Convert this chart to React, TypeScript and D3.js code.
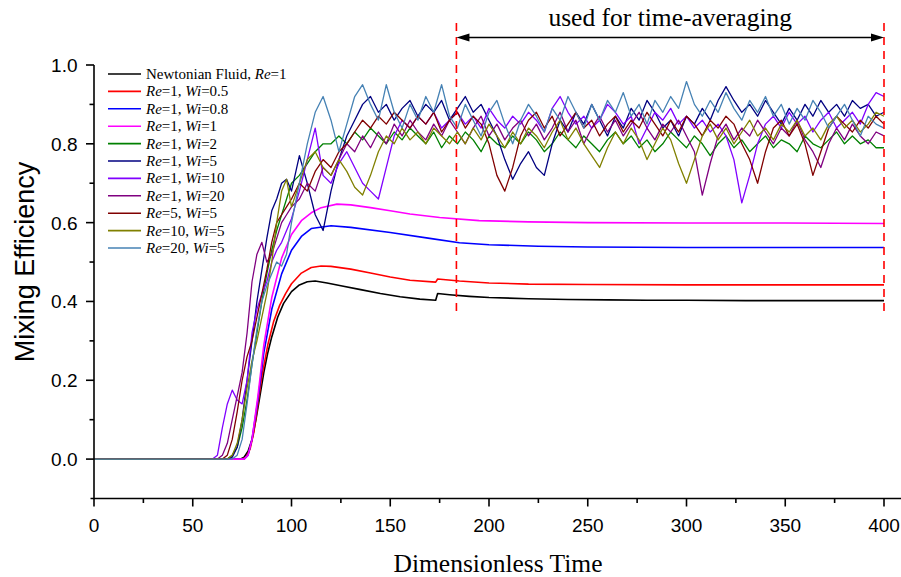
import React from 'react';
import * as d3 from 'd3';

// ---------- data ----------
// time samples for the fluctuating (viscoelastic, high-Wi) series
const T_NOISY = [
  0, 60, 62.5, 65, 67.5, 70, 72.5, 75, 77.5, 80, 82.5, 85, 87.5, 90, 92.5, 95, 97.5, 100,
  104, 108, 112, 116, 120, 124, 128, 132, 136, 140,
  144, 148, 152, 156, 160, 164, 168, 172, 176, 180,
  184, 188, 192, 196, 200, 204, 208, 212, 216, 220,
  224, 228, 232, 236, 240, 244, 248, 252, 256, 260,
  264, 268, 272, 276, 280, 284, 288, 292, 296, 300,
  304, 308, 312, 316, 320, 324, 328, 332, 336, 340,
  344, 348, 352, 356, 360, 364, 368, 372, 376, 380,
  384, 388, 392, 396, 400,
];

const T_NEWT = [0, 74, 76, 78, 80, 82, 84, 86, 88, 90, 93, 96, 100, 104, 108, 112, 118, 125, 135, 145, 155, 165, 173, 174, 180, 190, 200, 220, 240, 260, 280, 300, 330, 360, 400];
const V_NEWT = [0, 0, 0.005, 0.02, 0.05, 0.1, 0.16, 0.22, 0.27, 0.31, 0.36, 0.395, 0.425, 0.442, 0.45, 0.452, 0.447, 0.44, 0.43, 0.42, 0.412, 0.406, 0.403, 0.42, 0.417, 0.413, 0.41, 0.407, 0.405, 0.404, 0.403, 0.403, 0.402, 0.402, 0.402];

const T_WI05 = [0, 75, 77, 79, 81, 83, 85, 88, 91, 94, 97, 100, 105, 110, 115, 120, 130, 140, 150, 160, 173, 174, 185, 200, 220, 250, 300, 350, 400];
const V_WI05 = [0, 0, 0.005, 0.025, 0.07, 0.14, 0.21, 0.29, 0.35, 0.39, 0.42, 0.445, 0.472, 0.486, 0.49, 0.489, 0.482, 0.472, 0.462, 0.454, 0.449, 0.457, 0.452, 0.447, 0.444, 0.443, 0.442, 0.442, 0.442];

const T_WI08 = [0, 76, 78, 80, 83, 86, 90, 95, 100, 105, 110, 120, 130, 150, 170, 185, 200, 225, 250, 300, 350, 400];
const V_WI08 = [0, 0, 0.01, 0.05, 0.15, 0.27, 0.38, 0.47, 0.53, 0.565, 0.585, 0.592, 0.588, 0.575, 0.56, 0.549, 0.544, 0.54, 0.538, 0.537, 0.537, 0.537];

const T_WI1 = [0, 76, 78, 80, 83, 86, 90, 95, 100, 105, 110, 115, 123, 130, 140, 150, 160, 175, 195, 220, 250, 300, 350, 400];
const V_WI1 = [0, 0, 0.01, 0.05, 0.16, 0.29, 0.41, 0.51, 0.57, 0.605, 0.625, 0.638, 0.647, 0.645, 0.638, 0.63, 0.622, 0.613, 0.605, 0.602, 0.6, 0.599, 0.599, 0.598];

const V_WI2 = [
  0, 0, 0, 0, 0, 0.01, 0.03, 0.08, 0.15, 0.24, 0.32, 0.4, 0.47, 0.53, 0.58, 0.62, 0.66, 0.7,
  0.72, 0.75, 0.78, 0.8, 0.8, 0.82, 0.8, 0.83, 0.81, 0.84,
  0.82, 0.8, 0.83, 0.81, 0.84, 0.82, 0.8, 0.83, 0.79, 0.82,
  0.8, 0.83, 0.81, 0.78, 0.82, 0.8, 0.79, 0.82, 0.8, 0.83,
  0.81, 0.78, 0.8, 0.83, 0.81, 0.79, 0.82, 0.8, 0.78, 0.81,
  0.83, 0.8, 0.82, 0.79, 0.81, 0.78, 0.8, 0.83, 0.81, 0.79,
  0.82, 0.8, 0.77, 0.8, 0.82, 0.79, 0.81, 0.78, 0.8, 0.82,
  0.79, 0.81, 0.8, 0.78, 0.82, 0.8, 0.79, 0.81, 0.83, 0.8,
  0.82, 0.8, 0.81, 0.79, 0.79,
];

const V_WI5 = [
  0, 0, 0, 0, 0, 0.005, 0.03, 0.1, 0.2, 0.3, 0.4, 0.48, 0.56, 0.63, 0.66, 0.7, 0.71, 0.68,
  0.77, 0.7, 0.62, 0.58, 0.68, 0.76, 0.82, 0.86, 0.9, 0.92,
  0.88, 0.9, 0.86, 0.89, 0.91, 0.87, 0.9, 0.88, 0.91, 0.86,
  0.89, 0.92, 0.88, 0.9, 0.86, 0.82, 0.76, 0.71, 0.75, 0.78,
  0.74, 0.72, 0.8, 0.86, 0.83, 0.88, 0.85, 0.9, 0.86, 0.82,
  0.87, 0.84, 0.89, 0.86, 0.91, 0.88, 0.84, 0.86, 0.82, 0.87,
  0.85, 0.89, 0.86, 0.91, 0.945, 0.91, 0.88, 0.9, 0.87, 0.91,
  0.88, 0.85, 0.89, 0.86, 0.9, 0.87, 0.91, 0.88, 0.9, 0.87,
  0.91, 0.89, 0.9, 0.87, 0.88,
];

const V_WI10 = [
  0, 0, 0.01, 0.08, 0.14, 0.175, 0.15, 0.14, 0.2, 0.32, 0.38, 0.42, 0.45, 0.5, 0.53, 0.55, 0.58, 0.61,
  0.68, 0.76, 0.84, 0.72, 0.7, 0.75, 0.78, 0.74, 0.7, 0.68,
  0.66, 0.74, 0.82, 0.86, 0.84, 0.87, 0.85, 0.88, 0.84, 0.86,
  0.88, 0.85, 0.87, 0.84, 0.89, 0.86, 0.84, 0.87, 0.85, 0.88,
  0.86, 0.83, 0.89, 0.92, 0.88, 0.85, 0.87, 0.84, 0.86, 0.9,
  0.88, 0.85, 0.87, 0.8, 0.84, 0.88, 0.86, 0.89, 0.85, 0.87,
  0.84, 0.86, 0.83, 0.85, 0.82, 0.76, 0.65, 0.72, 0.8, 0.85,
  0.87, 0.84, 0.88, 0.85, 0.87, 0.83, 0.86, 0.88, 0.84, 0.86,
  0.88, 0.85, 0.9, 0.93, 0.92,
];

const V_WI20 = [
  0, 0, 0, 0.01, 0.04, 0.1, 0.16, 0.22, 0.32, 0.45, 0.52, 0.55, 0.5, 0.52, 0.56, 0.6, 0.62, 0.64,
  0.66, 0.7, 0.68, 0.74, 0.72, 0.76, 0.8, 0.78, 0.82, 0.79,
  0.83, 0.8, 0.85, 0.82, 0.86, 0.83, 0.81, 0.85, 0.82, 0.86,
  0.83, 0.8, 0.84, 0.87, 0.82, 0.85, 0.81, 0.84, 0.86, 0.82,
  0.85, 0.81, 0.84, 0.88, 0.83, 0.86, 0.8, 0.84, 0.87, 0.83,
  0.86, 0.82, 0.85, 0.88, 0.84, 0.81, 0.85, 0.83, 0.86, 0.82,
  0.78, 0.67, 0.75, 0.82, 0.85, 0.81, 0.84, 0.82, 0.86, 0.83,
  0.8, 0.84, 0.82, 0.86, 0.81, 0.78, 0.74, 0.8, 0.84, 0.81,
  0.85, 0.82, 0.8, 0.83, 0.82,
];

const V_RE5 = [
  0, 0, 0, 0, 0.01, 0.05, 0.12, 0.2, 0.26, 0.3, 0.36, 0.42, 0.48, 0.55, 0.6, 0.62, 0.64, 0.66,
  0.7, 0.68, 0.73, 0.76, 0.74, 0.78, 0.8, 0.83, 0.86, 0.84,
  0.87, 0.85, 0.88, 0.86, 0.84, 0.87, 0.85, 0.88, 0.83, 0.86,
  0.88, 0.84, 0.87, 0.85, 0.8, 0.72, 0.68, 0.74, 0.82, 0.86,
  0.88, 0.84, 0.87, 0.82, 0.85, 0.88, 0.84, 0.86, 0.82, 0.85,
  0.87, 0.83, 0.86, 0.84, 0.88, 0.85, 0.82, 0.86, 0.83, 0.87,
  0.85, 0.82, 0.86, 0.84, 0.87, 0.85, 0.8, 0.76, 0.7, 0.78,
  0.84, 0.86, 0.82, 0.85, 0.8, 0.72, 0.78, 0.84, 0.87, 0.85,
  0.83, 0.86, 0.84, 0.87, 0.85,
];

const V_RE10 = [
  0, 0, 0, 0, 0, 0.01, 0.04, 0.1, 0.18, 0.25, 0.3, 0.36, 0.42, 0.5, 0.6, 0.68, 0.71, 0.64,
  0.7, 0.76, 0.78, 0.74, 0.72, 0.76, 0.73, 0.69, 0.67, 0.72,
  0.78, 0.82, 0.8, 0.84, 0.81, 0.83, 0.8, 0.84, 0.82, 0.8,
  0.83, 0.8, 0.84, 0.81, 0.85, 0.82, 0.79, 0.83, 0.8, 0.84,
  0.82, 0.79, 0.83, 0.86, 0.81, 0.84, 0.8, 0.77, 0.74, 0.79,
  0.83, 0.8, 0.84, 0.81, 0.76, 0.8, 0.84, 0.81, 0.75, 0.7,
  0.76, 0.82, 0.85, 0.81, 0.84, 0.8, 0.83, 0.86, 0.82, 0.84,
  0.81, 0.85, 0.83, 0.86, 0.82, 0.84, 0.81, 0.85, 0.87, 0.84,
  0.86, 0.83, 0.85, 0.88, 0.87,
];

const V_RE20 = [
  0, 0, 0, 0, 0, 0, 0.01, 0.05, 0.14, 0.24, 0.33, 0.4, 0.44, 0.47, 0.5, 0.49, 0.52, 0.6,
  0.7, 0.8, 0.88, 0.92, 0.86, 0.78, 0.85, 0.92, 0.95, 0.9,
  0.86, 0.95, 0.88, 0.84, 0.9, 0.86, 0.92, 0.88, 0.95, 0.87,
  0.84, 0.9, 0.86, 0.82, 0.88, 0.91, 0.85, 0.8, 0.86, 0.9,
  0.87, 0.83, 0.89, 0.86, 0.92, 0.88, 0.84, 0.9, 0.86, 0.91,
  0.88, 0.93, 0.87, 0.9, 0.85, 0.91, 0.88, 0.92, 0.89, 0.958,
  0.9, 0.87, 0.91, 0.88, 0.93, 0.89, 0.86, 0.91, 0.88, 0.92,
  0.87, 0.9, 0.85, 0.89, 0.86, 0.91, 0.88, 0.84, 0.87, 0.9,
  0.86, 0.82, 0.87, 0.85, 0.84,
];

const LEGEND_RE = ['1', '1', '1', '1', '1', '1', '1', '1', '5', '10', '20'];
const LEGEND_WI = [null, '0.5', '0.8', '1', '2', '5', '10', '20', '5', '5', '5'];
const COLORS = ['#000000', '#ff0000', '#0000ff', '#ff00ff', '#008000', '#000080', '#8000ff', '#800080', '#800000', '#808000', '#4682b4'];
const SERIES_T = [T_NEWT, T_WI05, T_WI08, T_WI1, T_NOISY, T_NOISY, T_NOISY, T_NOISY, T_NOISY, T_NOISY, T_NOISY];
const SERIES_V = [V_NEWT, V_WI05, V_WI08, V_WI1, V_WI2, V_WI5, V_WI10, V_WI20, V_RE5, V_RE10, V_RE20];

const X_TICKS = [0, 50, 100, 150, 200, 250, 300, 350, 400];
const X_MINOR = [25, 75, 125, 175, 225, 275, 325, 375];
const Y_TICKS = [0, 0.2, 0.4, 0.6, 0.8, 1.0];
const Y_MINOR = [0.1, 0.3, 0.5, 0.7, 0.9];
const AVG_START = 183.5;
const AVG_END = 400;

// ---------- layout ----------
const W = 901;
const H = 577;
const SANS = "'Liberation Sans', Arial, sans-serif";
const SERIF = "'Liberation Serif', 'Times New Roman', serif";

export default function App() {
  const x = d3.scaleLinear().domain([0, 400]).range([94, 884]);
  const y = d3.scaleLinear().domain([-0.1, 1.0]).range([498.5, 65]);
  const line = d3.line<[number, number]>().x((d) => x(d[0])).y((d) => y(d[1]));

  const xAxisY = y(-0.1);
  const yAxisX = x(0);

  const lx0 = 108, lx1 = 141, ly0 = 74, ldy = 17.4;
  const ax0 = x(AVG_START), ax1 = x(AVG_END), ay = 37.5;

  return (
    <svg width={W} height={H} style={{ position: 'absolute', left: 0, top: 0, background: '#fff' }}>
      <rect x={0} y={0} width={W} height={H} fill="#fff" />
      {/* data */}
      <g fill="none" strokeLinejoin="round">
        {SERIES_V.map((vals, i) => {
          const ts = SERIES_T[i];
          const n = Math.min(ts.length, vals.length);
          const pts: [number, number][] = [];
          for (let k = 0; k < n; k++) pts.push([ts[k], vals[k]]);
          return <path key={i} d={line(pts) || ''} stroke={COLORS[i]} strokeWidth={i < 4 ? 1.6 : 1.3} />;
        })}
      </g>

      {/* axes */}
      <g stroke="#000" strokeWidth={1.6}>
        <line x1={90.5} x2={W} y1={xAxisY} y2={xAxisY} />
        <line x1={yAxisX} x2={yAxisX} y1={y(1.0)} y2={xAxisY + 0.8} />
        {X_TICKS.map((t) => (
          <line key={'xt' + t} x1={x(t)} x2={x(t)} y1={xAxisY} y2={xAxisY + 8} />
        ))}
        {X_MINOR.map((t) => (
          <line key={'xm' + t} x1={x(t)} x2={x(t)} y1={xAxisY} y2={xAxisY + 4.5} />
        ))}
        {Y_TICKS.map((t) => (
          <line key={'yt' + t} x1={yAxisX - 8} x2={yAxisX} y1={y(t)} y2={y(t)} />
        ))}
        {Y_MINOR.map((t) => (
          <line key={'ym' + t} x1={yAxisX - 4.5} x2={yAxisX} y1={y(t)} y2={y(t)} />
        ))}
      </g>
      <g fontFamily={SANS} fontSize={19} fill="#000">
        {X_TICKS.map((t) => (
          <text key={'xl' + t} x={x(t)} y={xAxisY + 33} textAnchor="middle">{t}</text>
        ))}
        {Y_TICKS.map((t) => (
          <text key={'yl' + t} x={yAxisX - 16.5} y={y(t) + 7} textAnchor="end">{t.toFixed(1)}</text>
        ))}
      </g>
      <text x={498} y={572} textAnchor="middle" fontFamily={SERIF} fontSize={25.5}>Dimensionless Time</text>
      <text transform={`translate(34,${y(0.5)}) rotate(-90)`} textAnchor="middle" fontFamily={SANS} fontSize={27}>Mixing Efficiency</text>

      {/* legend */}
      <g fontFamily={SERIF} fontSize={15}>
        {COLORS.map((c, i) => {
          const yy = ly0 + i * ldy;
          const wi = LEGEND_WI[i];
          return (
            <g key={'lg' + i}>
              <line x1={lx0} x2={lx1} y1={yy} y2={yy} stroke={c} strokeWidth={1.6} />
              <text x={lx1 + 5} y={yy + 5}>
                {wi === null ? (
                  <>
                    Newtonian Fluid, <tspan fontStyle="italic">Re</tspan>={LEGEND_RE[i]}
                  </>
                ) : (
                  <>
                    <tspan fontStyle="italic">Re</tspan>={LEGEND_RE[i]}, <tspan fontStyle="italic">Wi</tspan>={wi}
                  </>
                )}
              </text>
            </g>
          );
        })}
      </g>

      {/* time-averaging annotation */}
      <g stroke="#ff0000" strokeWidth={1.6} strokeDasharray="8,6">
        <line x1={ax0} x2={ax0} y1={23} y2={316} />
        <line x1={ax1} x2={ax1} y1={23} y2={316} />
      </g>
      <line x1={ax0 + 10} x2={ax1 - 10} y1={ay} y2={ay} stroke="#000" strokeWidth={1.6} />
      <path d={`M${ax0},${ay} L${ax0 + 13},${ay - 4} L${ax0 + 13},${ay + 4} Z`} fill="#000" />
      <path d={`M${ax1},${ay} L${ax1 - 13},${ay - 4} L${ax1 - 13},${ay + 4} Z`} fill="#000" />
      <text x={(ax0 + ax1) / 2} y={26} textAnchor="middle" fontFamily={SERIF} fontSize={25.5}>used for time-averaging</text>
    </svg>
  );
}
